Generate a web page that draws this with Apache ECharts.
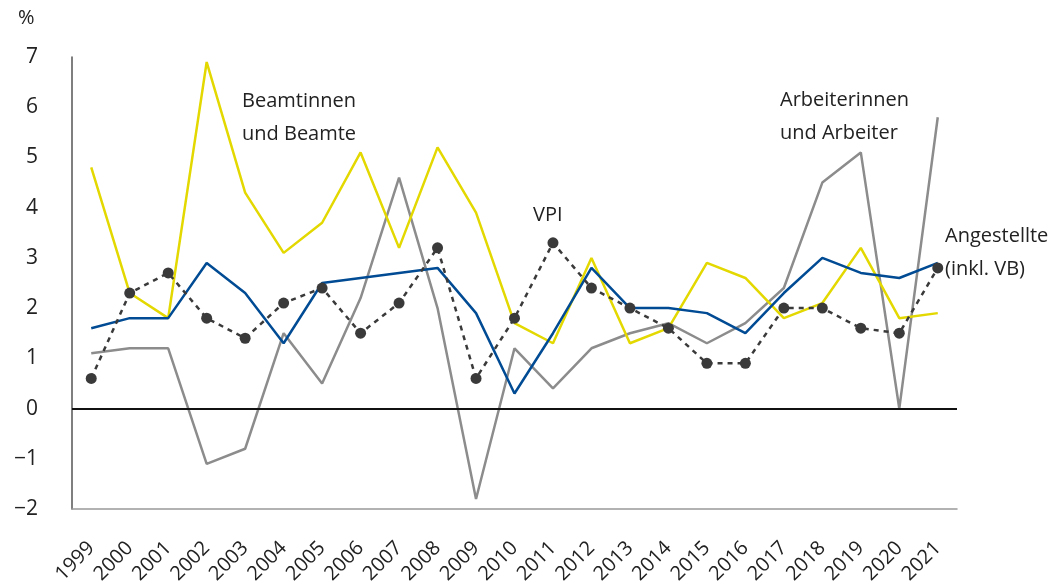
<!DOCTYPE html>
<html>
<head>
<meta charset="utf-8">
<script src="https://cdn.jsdelivr.net/npm/echarts@6/dist/echarts.min.js"></script>
<style>
  html, body { margin: 0; padding: 0; background: #fff; }
  #chart { width: 1055px; height: 585px; }
</style>
</head>
<body>
<div id="chart"></div>
<script>
const years = ['1999', '2000', '2001', '2002', '2003', '2004', '2005', '2006', '2007', '2008', '2009',
  '2010', '2011', '2012', '2013', '2014', '2015', '2016', '2017', '2018', '2019', '2020', '2021']
const beamte = [4.8, 2.3, 1.8, 6.9, 4.3, 3.1, 3.7, 5.1, 3.2, 5.2, 3.9, 1.7, 1.3, 3.0, 1.3, 1.6, 2.9, 2.6, 1.8, 2.1, 3.2, 1.8, 1.9]
const arbeiter = [1.1, 1.2, 1.2, -1.1, -0.8, 1.5, 0.5, 2.2, 4.6, 2.0, -1.8, 1.2, 0.4, 1.2, 1.5, 1.7, 1.3, 1.7, 2.4, 4.5, 5.1, 0.0, 5.8]
const angestellte = [1.6, 1.8, 1.8, 2.9, 2.3, 1.3, 2.5, 2.6, 2.7, 2.8, 1.9, 0.3, 1.5, 2.8, 2.0, 2.0, 1.9, 1.5, 2.3, 3.0, 2.7, 2.6, 2.9]
const vpi = [0.6, 2.3, 2.7, 1.8, 1.4, 2.1, 2.4, 1.5, 2.1, 3.2, 0.6, 1.8, 3.3, 2.4, 2.0, 1.6, 0.9, 0.9, 2.0, 2.0, 1.6, 1.5, 2.8]

const font = '"Open Sans", "Noto Sans", sans-serif'
const textColor = '#222'

let myChart = echarts.init(document.getElementById('chart'))
let option = {
  animation: false,
  grid: { left: 72, right: 98, top: 57, bottom: 76, outerBoundsMode: 'none', containLabel: false },
  xAxis: {
    type: 'category',
    data: years,
    boundaryGap: true,
    axisLine: { onZero: false, lineStyle: { color: '#999', width: 1.5 } },
    axisTick: { alignWithLabel: true, length: 11, lineStyle: { color: '#222', width: 1.5 } },
    axisLabel: { rotate: 45, fontSize: 20, color: textColor, fontFamily: font, margin: 36 }
  },
  yAxis: {
    type: 'value',
    min: -2,
    max: 7,
    interval: 1,
    axisLine: { show: true, lineStyle: { color: '#555', width: 1.5 } },
    axisTick: { show: false },
    splitLine: { show: false },
    axisLabel: {
      fontSize: 21, color: textColor, fontFamily: font, margin: 34,
      formatter: v => String(v).replace('-', '\u2212')
    }
  },
  graphic: [
    { type: 'text', left: 18, top: 8, style: { text: '%', font: '20px ' + font, fill: textColor } },
    { type: 'text', left: 242, top: 85, style: { text: 'Beamtinnen\nund Beamte', font: '20px ' + font, fill: textColor, lineHeight: 33 } },
    { type: 'text', left: 533, top: 205, style: { text: 'VPI', font: '20px ' + font, fill: textColor } },
    { type: 'text', left: 780, top: 84, style: { text: 'Arbeiterinnen\nund Arbeiter', font: '20px ' + font, fill: textColor, lineHeight: 33 } },
    { type: 'text', left: 945, top: 220, style: { text: 'Angestellte\n(inkl. VB)', font: '20px ' + font, fill: textColor, lineHeight: 33 } }
  ],
  series: [
    {
      name: 'Arbeiterinnen und Arbeiter',
      type: 'line',
      data: arbeiter,
      symbol: 'none',
      lineStyle: { color: '#8c8c8c', width: 2.5 },
      markLine: {
        silent: true,
        symbol: 'none',
        label: { show: false },
        lineStyle: { color: '#111', width: 1.8, type: 'solid' },
        data: [{ yAxis: 0 }]
      }
    },
    {
      name: 'Beamtinnen und Beamte',
      type: 'line',
      data: beamte,
      symbol: 'none',
      lineStyle: { color: '#e3d800', width: 2.5 }
    },
    {
      name: 'Angestellte (inkl. VB)',
      type: 'line',
      data: angestellte,
      symbol: 'none',
      lineStyle: { color: '#004b93', width: 2.5 }
    },
    {
      name: 'VPI',
      type: 'line',
      data: vpi,
      symbol: 'circle',
      symbolSize: 11,
      itemStyle: { color: '#3a3a3a' },
      lineStyle: { color: '#3a3a3a', width: 2.5, type: [5, 5] }
    }
  ]
}
myChart.setOption(option)
</script>
</body>
</html>
